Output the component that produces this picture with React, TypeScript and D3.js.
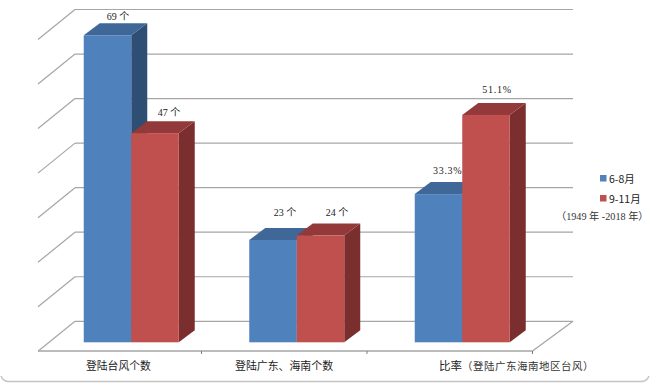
import React from "react";
import * as d3 from "d3";

const categories = ["登陆台风个数", "登陆广东、海南个数", "比率"];
const categorySuffix = ["", "", "（登陆广东海南地区台风）"];
const seriesNames = ["6-8月", "9-11月"];
const summer = [69, 23, 33.3];
const autumn = [47, 24, 51.1];
const valueLabels = [["69 个", "47 个"], ["23 个", "24 个"], ["33.3%", "51.1%"]];
const gridValues = [0, 10, 20, 30, 40, 50, 60, 70];
const rangeNote = "（1949 年 -2018 年）";

const W = 650, H = 383;
const floorLeft = 36, floorRight = 532.5;
const wallDX = 39, wallDY = -30;
const barDX = 16, barDY = -12;
const gridColor = "#a6a6a6";
const serif = "'Liberation Serif','Noto Sans CJK SC',serif";
const cjk = "'Noto Sans CJK SC','Liberation Sans',sans-serif";

const palettes = [
  { front: "#4f81bd", top: "#3f6797", side: "#2f4e73" },
  { front: "#c0504d", top: "#93393a", side: "#7a2f2e" },
];

export default function App() {
  const x = d3.scaleBand<string>().domain(categories).range([floorLeft, floorRight]);
  const yBar = d3.scaleLinear().domain([0, 70]).range([342.3, 30.8]);
  const yWall = d3.scaleLinear().domain([0, 70]).range([321.3, 9.5]);
  const floorFront = 351;
  const barW = 47.5;
  const groupCenter = (c: string) => (x(c) as number) + x.bandwidth() / 2 + 12.5;

  const bar = (v: number, cat: string, si: number) => {
    const x0 = groupCenter(cat) + (si - 1) * barW;
    const x1 = x0 + barW;
    const y0 = yBar(v);
    const yb = yBar(0);
    const p = palettes[si];
    return (
      <g key={cat + si}>
        <polygon fill={p.side} points={`${x1},${y0} ${x1 + barDX},${y0 + barDY} ${x1 + barDX},${yb + barDY} ${x1},${yb}`} />
        <polygon fill={p.top} points={`${x0},${y0} ${x0 + barDX},${y0 + barDY} ${x1 + barDX},${y0 + barDY} ${x1},${y0}`} />
        <rect x={x0} y={y0} width={barW} height={yb - y0} fill={p.front} />
      </g>
    );
  };

  const labelPos = [
    [[118, 20], [169, 116]],
    [[285, 216], [337, 215.5]],
    [[447.7, 174], [497, 93]],
  ];

  return (
    <svg width={W} height={H} style={{ position: "absolute", left: 0, top: 0, background: "#fff" }}>
      <path d="M1,376 Q3,381 8,381.5 L642,381.5 Q647,381 649,376" fill="none" stroke="#c4c4c4" strokeWidth={1.5} />

      {gridValues.map((v) => {
        const yb = yWall(v);
        return (
          <g key={v} stroke={gridColor} strokeWidth={1.2} fill="none">
            <line x1={floorLeft + 2} y1={yb - wallDY} x2={floorLeft + 2 + wallDX - 2} y2={yb} />
            <line x1={floorLeft + wallDX} y1={yb} x2={floorRight + wallDX + 1.5} y2={yb} />
          </g>
        );
      })}
      <g stroke={gridColor} strokeWidth={1.3} fill="none">
        <line x1={floorLeft + 2} y1={floorFront} x2={floorRight} y2={floorFront} />
        <line x1={floorRight} y1={floorFront} x2={floorRight + wallDX + 1.5} y2={yWall(0)} />
        {categories.slice(1).concat("end").map((c, i) => {
          const tx = floorLeft + x.bandwidth() * (i + 1);
          return <line key={c} x1={tx} x2={tx} y1={floorFront} y2={floorFront + 3} strokeWidth={1} stroke="#808080" />;
        })}
      </g>

      {categories.map((c, i) => (
        <g key={c}>
          {bar(summer[i], c, 0)}
          {bar(autumn[i], c, 1)}
        </g>
      ))}

      {valueLabels.map((pair, i) =>
        pair.map((t, j) => (
          <text key={t + j} x={labelPos[i][j][0]} y={labelPos[i][j][1]} fontSize={10} letterSpacing={i === 2 ? 0.7 : 0} textAnchor="middle" fontFamily={serif} fill="#222">
            {t}
          </text>
        ))
      )}

      <text x={86} y={370} fontSize={10.8} fontFamily={cjk} fill="#222">{categories[0]}</text>
      <text x={235} y={370} fontSize={10.9} fontFamily={cjk} fill="#222">{categories[1]}</text>
      <text x={439} y={370} fontSize={11.5} fontFamily={cjk} fill="#222">
        {categories[2]}
        <tspan fontSize={10.5} letterSpacing={0.5} fill="#333">{categorySuffix[2]}</tspan>
      </text>

      {seriesNames.map((s, i) => (
        <g key={s}>
          <rect x={600} y={175 + i * 20} width={6.5} height={6.5} fill={palettes[i].front} />
          <text x={609} y={182.5 + i * 20} fontSize={10.5} fontFamily={cjk} fill="#222">{s}</text>
        </g>
      ))}
      <text x={556} y={220} fontSize={10.2} fontFamily={serif} fill="#333">{rangeNote}</text>
    </svg>
  );
}
